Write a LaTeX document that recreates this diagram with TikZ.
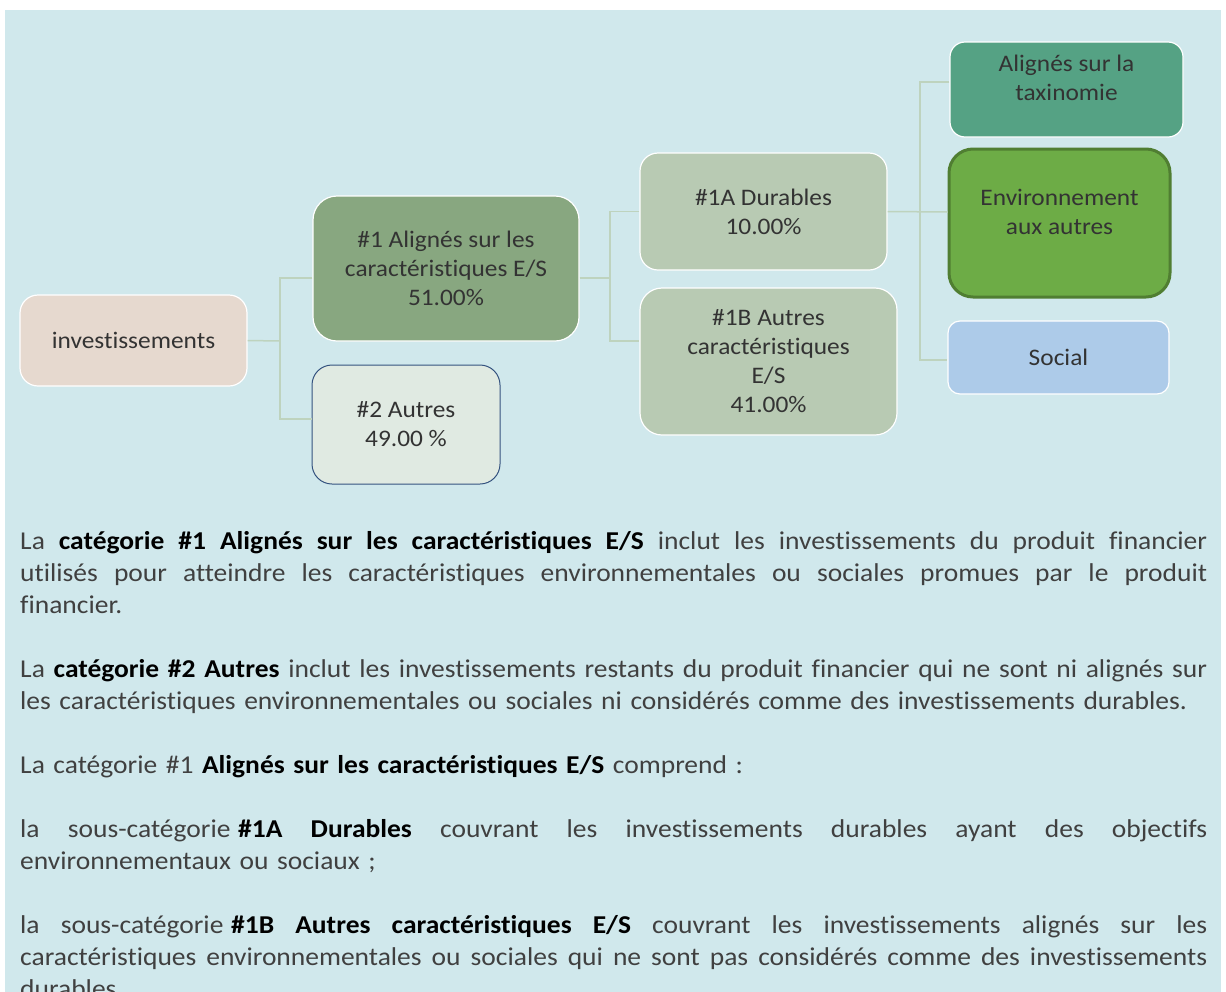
\documentclass[tikz,border=0pt]{standalone}
\usepackage{fontspec}
\setmainfont{Carlito}[FakeStretch=1.07,Ligatures=NoCommon]
\definecolor{bgclr}{HTML}{D0E8EC}
\definecolor{lineclr}{HTML}{BED3BE}
\definecolor{invclr}{HTML}{E6D9CF}
\definecolor{oneclr}{HTML}{88A780}
\definecolor{twoclr}{HTML}{E0EAE2}
\definecolor{twoline}{HTML}{34527F}
\definecolor{subclr}{HTML}{B8CAB3}
\definecolor{taxclr}{HTML}{55A284}
\definecolor{envclr}{HTML}{6DAC46}
\definecolor{envline}{HTML}{507E32}
\definecolor{socclr}{HTML}{ADCBE9}
% justified line of the text block
\newcommand\jl[1]{\makebox[1187pt][s]{\spaceskip=\fontdimen2\font plus 1fil\relax #1}}
\newcommand\hl[1]{\textcolor{black}{\textbf{#1}}}

\begin{document}
\begin{tikzpicture}[x=1pt,y=-1pt,
    box/.style={draw=white,line width=1.2pt,rounded corners=18pt,align=center,
      text=black!80,font=\fontsize{23.7}{29}\selectfont},
    lbl/.style={align=center,text=black!80,font=\fontsize{23.7}{29}\selectfont},
    conn/.style={draw=lineclr,line width=1.5pt},
    para/.style={anchor=base west,inner sep=0pt,text width=1187pt,align=left,
      text=black!75,font=\fontsize{25.7}{32}\selectfont}]
  \clip (0,0) rectangle (1226,991);
  \fill[white] (0,0) rectangle (1226,991);
  \fill[bgclr] (5,10) rectangle (1221,1010);

  % boxes
  \node[box,fill=invclr,minimum width=227pt,minimum height=91pt] (inv) at (133.5,340.5) {investissements};
  \node[box,fill=oneclr,minimum width=266pt,minimum height=145pt,rounded corners=24pt] (a1) at (446,268.5)
    {\#1 Alignés sur les\\caractéristiques E/S\\51.00\%};
  \node[box,draw=twoline,line width=1pt,fill=twoclr,minimum width=188pt,minimum height=119pt,rounded corners=20pt] (a2) at (406,424.5)
    {\#2 Autres\\49.00 \%};
  \node[box,fill=subclr,minimum width=247pt,minimum height=117pt] (d1a) at (763.5,211.5)
    {\#1A Durables\\10.00\%};
  \node[box,fill=subclr,minimum width=257pt,minimum height=147pt,rounded corners=22pt] (d1b) at (768.5,361.5)
    {\#1B Autres\\caractéristiques\\E/S\\41.00\%};
  \node[box,fill=taxclr,minimum width=233pt,minimum height=95pt,rounded corners=15pt] (tax) at (1066.5,89.5) {};
  \node[lbl] (taxtxt) at (1066.5,77.5) {Alignés sur la\\taxinomie};
  \node[box,draw=envline,line width=3pt,fill=envclr,minimum width=221pt,minimum height=148pt,rounded corners=24pt] (env) at (1059.5,223) {};
  \node[lbl] (envtxt) at (1059.5,211.5) {Environnement\\aux autres};
  \node[box,fill=socclr,minimum width=221pt,minimum height=73pt,rounded corners=12pt] (soc) at (1058.5,357.5) {Social};

  % connectors
  \coordinate (j1) at (280,341);
  \coordinate (j2) at (610,278);
  \coordinate (j3) at (920,212);
  \draw[conn] (inv.east) -- (j1);
  \draw[conn] ([yshift=-9.5pt]a1.west) -| (j1) |- ([yshift=5.5pt]a2.west);
  \draw[conn] ([yshift=-9.5pt]a1.east) -- (j2);
  \draw[conn] (d1a.west) -| (j2) |- ([yshift=20.5pt]d1b.west);
  \draw[conn] (d1a.east) -- ([yshift=11pt]env.west);
  \draw[conn] ([yshift=7.5pt]tax.west) -| (j3) |- ([yshift=-2.5pt]soc.west);

  % text
  \node[para] (p1) at (20,549) {%
    \jl{La \hl{catégorie \#1 Alignés sur les caractéristiques E/S} inclut les investissements du produit financier}\\
    \jl{utilisés pour atteindre les caractéristiques environnementales ou sociales promues par le produit}\\
    financier.};
  \node[para] (p2) at (20,677) {%
    \jl{La \hl{catégorie \#2 Autres} inclut les investissements restants du produit financier qui ne sont ni alignés sur}\\
    les caractéristiques environnementales ou sociales ni considérés comme des investissements durables.};
  \node[para] (p3) at (20,773) {La catégorie \#1 \hl{Alignés sur les caractéristiques E/S} comprend :};
  \node[para] (p4) at (20,837) {%
    \jl{la sous-catégorie\hskip.3em\hl{\#1A Durables} couvrant les investissements durables ayant des objectifs}\\
    environnementaux ou sociaux ;};
  \node[para] (p5) at (20,933) {%
    \jl{la sous-catégorie\hskip.3em\hl{\#1B Autres caractéristiques E/S} couvrant les investissements alignés sur les}\\
    \jl{caractéristiques environnementales ou sociales qui ne sont pas considérés comme des investissements}\\
    durables.};
\end{tikzpicture}
\end{document}
